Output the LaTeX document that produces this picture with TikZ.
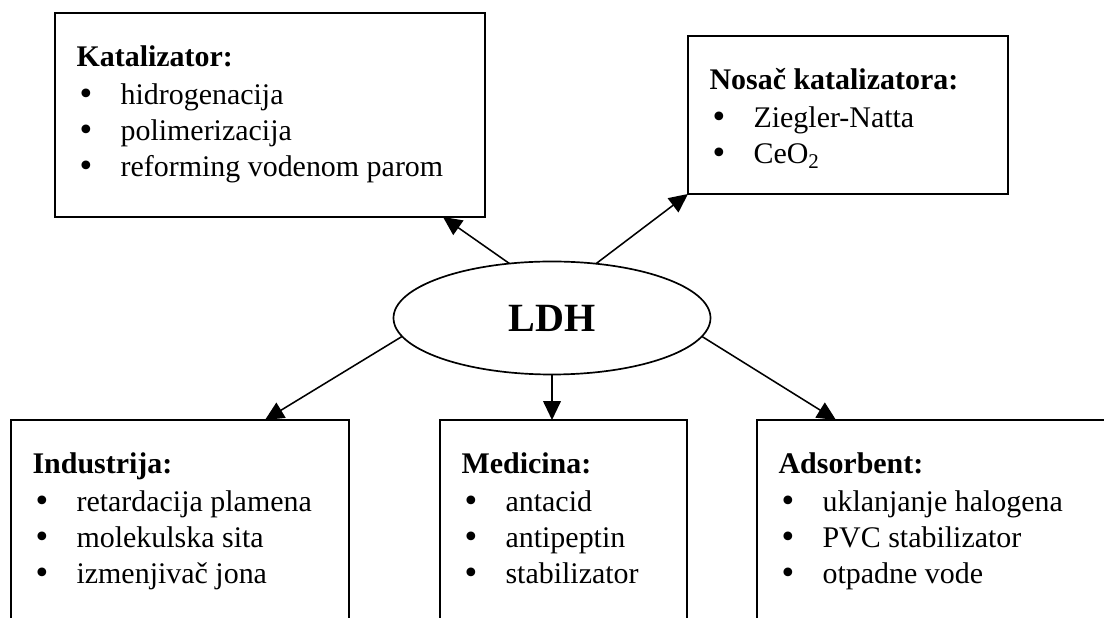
\documentclass[tikz,border=0pt]{standalone}
\usepackage{fontspec}
\setmainfont{Liberation Serif}
\newfontfamily\tackafont{DejaVu Sans}
\usetikzlibrary{arrows.meta,shapes.geometric}

\newcommand{\stavka}[1]{\hspace{0.02cm}\makebox[1.08cm][l]{\tackafont •}#1}
\tikzset{
  okvir/.style={draw, rectangle, line width=1.4pt, inner sep=0pt, outer sep=0pt},
  lista/.style={anchor=base west, inner sep=0pt, font=\fontsize{21.3}{25.6}\selectfont},
}

\begin{document}
\begin{tikzpicture}[>={Triangle[length=0.47cm,width=0.44cm]}, line width=1.1pt]
\clip (0,0) rectangle (27.6,15.45);
% gornji okviri
\node[okvir, minimum width=10.75cm, minimum height=5.1cm] (kat) at (6.75,12.575) {};
\node[okvir, minimum width=8cm, minimum height=3.95cm] (nos) at (21.2,12.575) {};
% LDH
\node[ellipse, draw, line width=1.2pt, minimum width=7.925cm, minimum height=2.825cm,
      inner sep=0pt, outer sep=0pt, font=\fontsize{28.5}{34}\selectfont\bfseries] (ldh) at (13.8,7.5) {LDH};
% donji okviri (odsjeceni na dnu)
\node[okvir, minimum width=8.45cm, minimum height=5.95cm] (ind) at (4.5,1.975) {};
\node[okvir, minimum width=6.175cm, minimum height=5.95cm] (med) at (14.0875,1.975) {};
\node[okvir, minimum width=9.575cm, minimum height=5.95cm] (ads) at (23.7125,1.975) {};
% tekstovi
\node[lista] (katTekst) at ([shift={(0.52cm,-1.35cm)}]kat.north west)
  {\begin{tabular}[t]{@{}l@{}}\textbf{Katalizator:}\\[0.05cm]
   \stavka{hidrogenacija}\\ \stavka{polimerizacija}\\ \stavka{reforming vodenom parom}\end{tabular}};
\node[lista] (nosTekst) at ([shift={(0.52cm,-1.35cm)}]nos.north west)
  {\begin{tabular}[t]{@{}l@{}}\textbf{Nosač katalizatora:}\\[0.05cm]
   \stavka{Ziegler-Natta}\\ \stavka{CeO\textsubscript{2}}\end{tabular}};
\node[lista] (indTekst) at ([shift={(0.52cm,-1.35cm)}]ind.north west)
  {\begin{tabular}[t]{@{}l@{}}\textbf{Industrija:}\\[0.05cm]
   \stavka{retardacija plamena}\\ \stavka{molekulska sita}\\ \stavka{izmenjivač jona}\end{tabular}};
\node[lista] (medTekst) at ([shift={(0.52cm,-1.35cm)}]med.north west)
  {\begin{tabular}[t]{@{}l@{}}\textbf{Medicina:}\\[0.05cm]
   \stavka{antacid}\\ \stavka{antipeptin}\\ \stavka{stabilizator}\end{tabular}};
\node[lista] (adsTekst) at ([shift={(0.52cm,-1.35cm)}]ads.north west)
  {\begin{tabular}[t]{@{}l@{}}\textbf{Adsorbent:}\\[0.05cm]
   \stavka{uklanjanje halogena}\\ \stavka{PVC stabilizator}\\ \stavka{otpadne vode}\end{tabular}};
% strelice
\draw[->] (ldh.128) -- ([xshift=-1.05cm]kat.south east);
\draw[->] (ldh.51) -- (nos.south west);
\draw[->] (ldh.187) -- ([xshift=2.125cm]ind.north);
\draw[->] (ldh.south) -- (ldh.south |- med.north);
\draw[->] (ldh.-7) -- ([xshift=1.975cm]ads.north west);
\end{tikzpicture}
\end{document}
